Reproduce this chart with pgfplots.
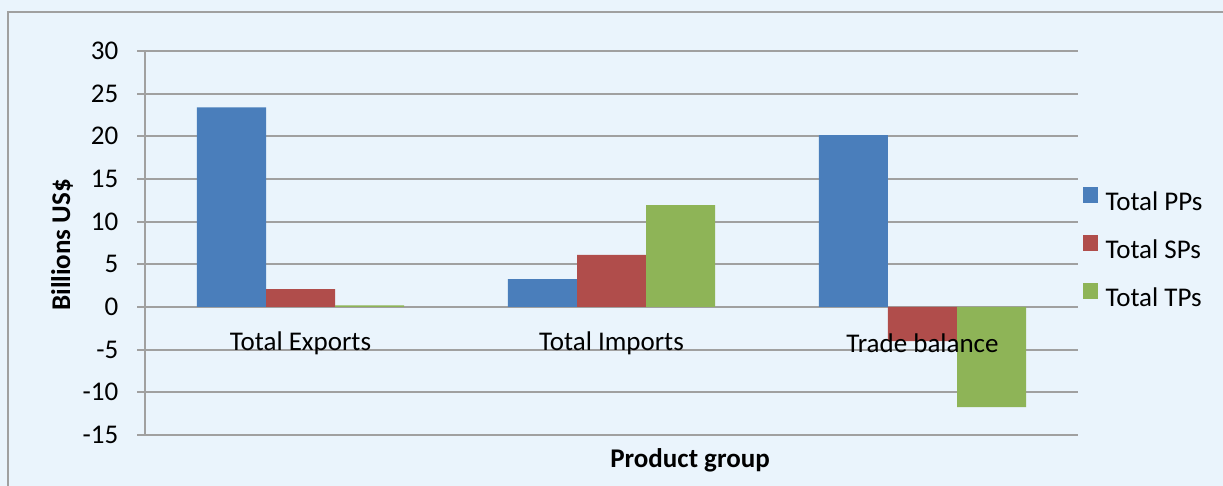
\documentclass[border=0pt]{standalone}
\usepackage{fontspec}
\setmainfont{Carlito}
\usepackage{pgfplots}
\pgfplotsset{compat=1.18}
\definecolor{bg}{RGB}{234,244,252}
\definecolor{c1}{RGB}{74,126,187}
\definecolor{c2}{RGB}{176,77,75}
\definecolor{c3}{RGB}{142,180,87}
\definecolor{gl}{RGB}{160,160,160}
\begin{document}
\begin{tikzpicture}
\useasboundingbox (0,0) rectangle (453pt,180pt);
\fill[bg] (0,0) rectangle (453pt,180pt);
\draw[gl, line width=0.74pt] (2.96pt,-1pt) -- (2.96pt,175.57pt) -- (455pt,175.57pt);
\begin{axis}[
  at={(53.71pt,18.89pt)}, anchor=south west,
  scale only axis, width=345.58pt, height=142.23pt,
  xmin=-0.5, xmax=2.5, ymin=-15, ymax=30,
  axis x line=none, axis y line=left,
  axis line style={gl, line width=0.74pt, -},
  ytick={-15,-10,-5,0,5,10,15,20,25,30},
  yticklabels={-15,-10,-5,0,5,10,15,20,25,30},
  yticklabel style={font=\normalsize, xshift=-3.4pt},
  ymajorgrids, grid style={gl, line width=0.74pt},
  tick align=outside, major tick length=2.96pt,
  tick style={gl, line width=0.74pt},
  ybar=0pt, bar width=25.56pt,
  legend style={at={(1.0043,0.478)}, anchor=west, draw=none, fill=none,
    font=\normalsize, row sep=5.3pt, inner sep=0pt,
    nodes={inner xsep=2.6pt}},
  legend cell align=left,
  legend image code/.code={\fill[#1, draw=none] (0pt,0.2pt) rectangle (5.9pt,6.1pt);},
]
\addplot[fill=c1, draw=none, bar shift=-25.56pt] coordinates {(0,23.4) (1,3.25) (2,20.15)};
\addplot[fill=c2, draw=none, bar shift=0pt] coordinates {(0,2.1) (1,6.1) (2,-4.0)};
\addplot[fill=c3, draw=none, bar shift=25.56pt] coordinates {(0,0.2) (1,11.95) (2,-11.75)};
\legend{Total PPs, Total SPs, Total TPs}
\node at (axis cs:0,-4.25) {Total Exports};
\node at (axis cs:1,-4.25) {Total Imports};
\node at (axis cs:2,-4.25) {Trade balance};
\end{axis}
\node[rotate=90, font=\bfseries] at (22.96pt,89.27pt) {Billions US\$};
\node[font=\bfseries] at (255.6pt,9.63pt) {Product group};
\end{tikzpicture}
\end{document}
